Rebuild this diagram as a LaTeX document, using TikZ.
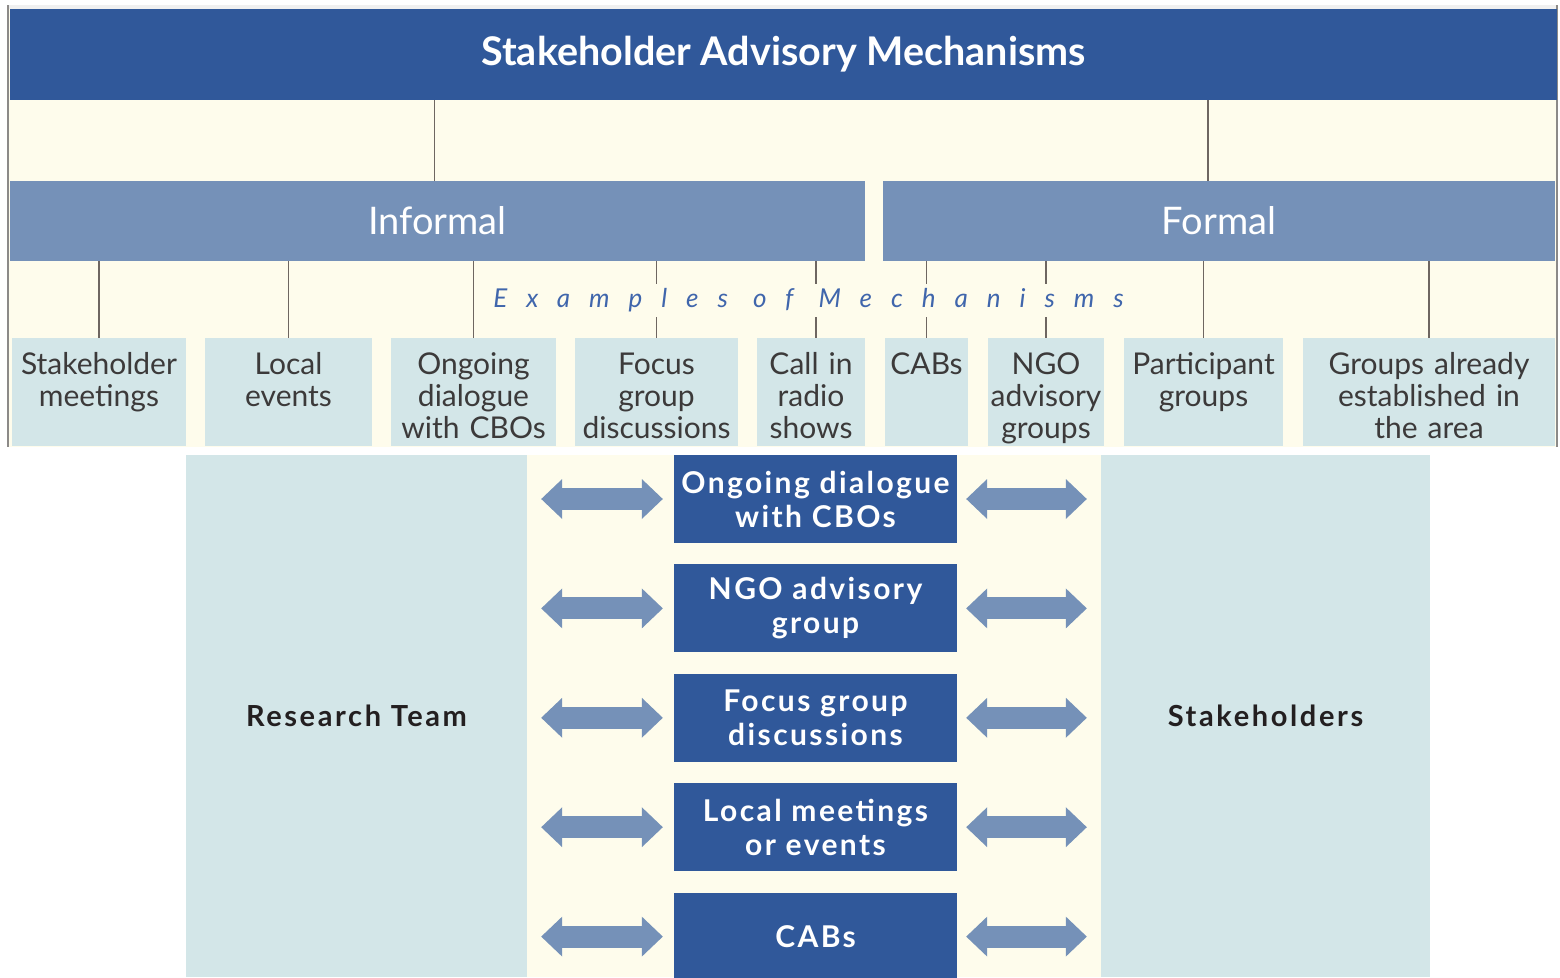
\documentclass[tikz,border=0pt]{standalone}
\usepackage{fontspec}
\setmainfont{Lato}
\usepackage{tikz}
\usetikzlibrary{arrows.meta}
\usetikzlibrary{positioning}

\definecolor{titleblue}{HTML}{30589A}
\definecolor{barblue}{HTML}{7591B8}
\definecolor{cream}{HTML}{FEFCEC}
\definecolor{paleblue}{HTML}{D3E6E8}
\definecolor{stemgray}{HTML}{6E6661}
\definecolor{labelgray}{HTML}{3C3A3A}
\definecolor{exblue}{HTML}{4066AC}
\definecolor{sidetext}{HTML}{231F20}
\definecolor{edgegray}{HTML}{8C8A88}

\begin{document}
\begin{tikzpicture}[x=1pt,y=-1pt,
	box/.style={rectangle, inner sep=0pt, align=center},
	head/.style={box, fill=titleblue, text=white, font=\fontsize{39.5}{44}\selectfont\bfseries},
	branch/.style={box, fill=barblue, text=white, minimum height=80pt, font=\fontsize{38}{44}\selectfont},
	mech/.style={box, fill=paleblue, text=labelgray, text height=36pt, text depth=72pt, font=\fontsize{30}{32}\selectfont},
	side/.style={box, fill=paleblue, text=sidetext, minimum height=522pt, font=\fontsize{29}{34}\selectfont\bfseries\addfontfeatures{LetterSpace=9}},
	channel/.style={box, fill=titleblue, text=white, minimum width=283pt, minimum height=88pt, font=\fontsize{30}{34}\selectfont\bfseries\addfontfeatures{LetterSpace=8}},
	stem/.style={draw=stemgray, line width=1.8pt},
	twoway/.style={barblue, line width=22pt, {Triangle[length=21pt,width=40pt,line width=0pt]}-{Triangle[length=21pt,width=40pt,line width=0pt]}}]
	\useasboundingbox (0,0) rectangle (1560,977);

	% upper panel
	\fill[cream] (8,5) rectangle (1558,447);
	\fill[black!6] (8,5) rectangle (1558,9);
	\draw[edgegray, line width=2pt] (8,5) -- (8,447) (1557,5) -- (1557,447);

	\node[head, minimum width=1547pt, minimum height=91pt] (title) at (783.5,54.5) {Stakeholder Advisory Mechanisms};
	\node[branch, minimum width=855pt] (inf) at (437.5,221) {Informal};
	\node[branch, minimum width=672pt] (frm) at (1219,221) {Formal};

	\node[mech, text width=174pt] (m1) at (99,392)     {Stakeholder\\meetings};
	\node[mech, text width=167pt] (m2) at (288.5,392)  {Local\\events};
	\node[mech, text width=165pt] (m3) at (473.5,392)  {Ongoing\\dialogue\\with CBOs};
	\node[mech, text width=163pt] (m4) at (656.5,392)  {Focus\\group\\discussions};
	\node[mech, text width=108pt] (m5) at (811,392)    {Call in\\radio\\shows};
	\node[mech, text width=83pt]  (m6) at (926.5,392)  {CABs};
	\node[mech, text width=116pt] (m7) at (1046,392)   {NGO\\advisory\\groups};
	\node[mech, text width=159pt] (m8) at (1203.5,392) {Participant\\groups};
	\node[mech, text width=252pt] (m9) at (1429,392)   {Groups already\\established in\\the area};

	\draw[stem] ([xshift=-3pt]inf.north) -- ([xshift=-3pt]inf.north |- title.south)
		([xshift=-11pt]frm.north) -- ([xshift=-11pt]frm.north |- title.south);
	\foreach \m in {m1,m2,m3,m4}
		\draw[stem] (\m.north) -- (\m.north |- inf.south);
	\draw[stem] ([xshift=5pt]m5.north) -- ([xshift=5pt]m5.north |- inf.south);
	\foreach \m in {m6,m7,m8,m9}
		\draw[stem] (\m.north) -- (\m.north |- frm.south);

	\node[fill=cream, text=exblue, inner xsep=6pt, minimum height=33pt,
		font=\fontsize{26}{30}\selectfont\itshape\addfontfeatures{LetterSpace=73}] (ex) at (808.5,300.5) {Examples of Mechanisms};

	% lower panel
	\fill[cream] (527,455) rectangle (1101,977);
	\node[side, minimum width=341pt] (rt) at (356.5,716) {Research Team};
	\node[side, minimum width=329pt] (sh) at (1265.5,716) {Stakeholders};

	\node[channel] (c1) at (815.5,499) {Ongoing dialogue\\with CBOs};
	\node[channel, below=21pt of c1] (c2) {NGO advisory\\group};
	\node[channel, below=21pt of c2] (c3) {Focus group\\discussions};
	\node[channel, below=21pt of c3] (c4) {Local meetings\\or events};
	\node[channel, below=21pt of c4] (c5) {CABs};

	\foreach \c in {c1,c2,c3,c4,c5} {
		\draw[twoway, shorten <=14pt, shorten >=11pt] (rt.east |- \c.west) -- (\c.west);
		\draw[twoway, shorten <=9pt, shorten >=14pt] (\c.east) -- (sh.west |- \c.east);
	}
\end{tikzpicture}
\end{document}
